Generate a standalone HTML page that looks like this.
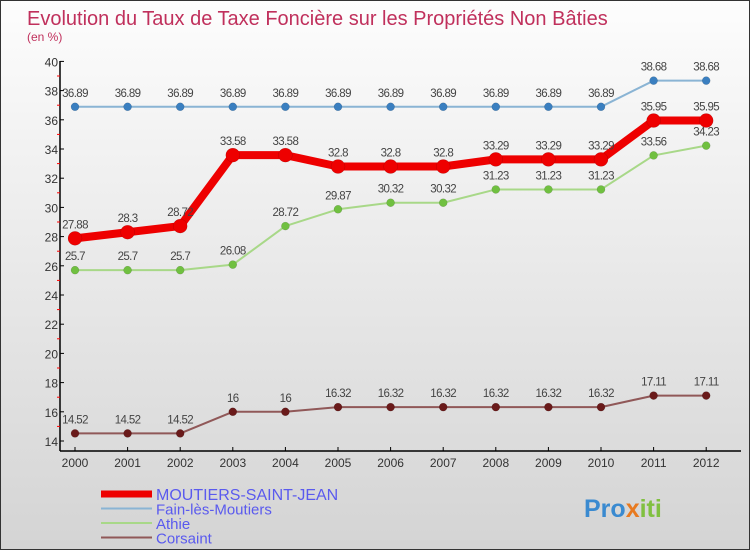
<!DOCTYPE html>
<html><head><meta charset="utf-8"><style>
body{margin:0}
#c{width:748px;height:548px;border:1px solid #333;background:linear-gradient(#fdfdfd,#d4d4d4);position:relative;font-family:"Liberation Sans",sans-serif;overflow:hidden}
</style></head><body>
<div id="c">
<svg width="748" height="548" id="s"></svg>
</div>
<script>
const years=["2000","2001","2002","2003","2004","2005","2006","2007","2008","2009","2010","2011","2012"];
const moutiers=[27.88,28.3,28.72,33.58,33.58,32.8,32.8,32.8,33.29,33.29,33.29,35.95,35.95];
const fain=[36.89,36.89,36.89,36.89,36.89,36.89,36.89,36.89,36.89,36.89,36.89,38.68,38.68];
const athie=[25.7,25.7,25.7,26.08,28.72,29.87,30.32,30.32,31.23,31.23,31.23,33.56,34.23];
const corsaint=[14.52,14.52,14.52,16,16,16.32,16.32,16.32,16.32,16.32,16.32,17.11,17.11];
const yTicks=[14,16,18,20,22,24,26,28,30,32,34,36,38,40];
const NS="http://www.w3.org/2000/svg";
const s=document.getElementById('s');
function X(i){return 74+i*52.6;}
function Y(v){return 440-(v-14)*14.6;}
function el(t,a,txt,p){const e=document.createElementNS(NS,t);for(const k in a)e.setAttribute(k,a[k]);if(txt!==undefined)e.textContent=txt;(p||s).appendChild(e);return e;}
let t=el('text',{x:26,y:24,'font-size':20,fill:'#c0305c'},'Evolution du Taux de Taxe Foncière sur les Propriétés Non Bâties');

t=el('text',{x:26,y:40,'font-size':12,fill:'#c0305c'},'(en %)');

let a=el('line',{x1:59,y1:60,x2:59,y2:450,stroke:'#000','stroke-width':1.5});

a=el('line',{x1:59,y1:450,x2:740,y2:450,stroke:'#000','stroke-width':1.5});

yTicks.forEach((v,i)=>{
 el('line',{x1:59,y1:Y(v),x2:63,y2:Y(v),stroke:'#000'});
 if(i<yTicks.length-1)el('line',{x1:56,y1:Y(v+1),x2:59,y2:Y(v+1),stroke:'red'});
 const l=el('text',{x:57,y:Y(v)+5,'font-size':12,fill:'#333','text-anchor':'end'},v);
 
});
years.forEach((y,i)=>{
 el('line',{x1:X(i),y1:446,x2:X(i),y2:450,stroke:'#000'});
 const l=el('text',{x:X(i),y:466,'font-size':12,fill:'#333','text-anchor':'middle'},y);
 
});
function series(d,color,dot,w,r,name){
 const p=el('polyline',{points:d.map((v,i)=>X(i)+','+Y(v)).join(' '),fill:'none',stroke:color,'stroke-width':w,'stroke-linejoin':'round'});
 
 d.forEach((v,i)=>{
  const c=el('circle',{cx:X(i),cy:Y(v),r:r,fill:dot,stroke:'#0003','stroke-width':0.5});
  
  const l=el('text',{x:X(i),y:Y(v)-10,'font-size':11.5,fill:'#444','text-anchor':'middle','letter-spacing':'-0.6'},v);
  
 });
}
series(fain,'#8ab4d4','#3a7fc0',2,4,'fain');
series(athie,'#a8d888','#70c040',2,4,'athie');
series(corsaint,'#905858','#6a1a1a',2,4,'corsaint');
series(moutiers,'#ee0000','#ee0000',8,7,'moutiers');
const leg=[['MOUTIERS-SAINT-JEAN','#ee0000',7],['Fain-lès-Moutiers','#8ab4d4',2],['Athie','#a8d888',2],['Corsaint','#905858',2]];
leg.forEach((e,i)=>{
 const y=493+i*14.5;
 const l=el('line',{x1:100,y1:y,x2:151,y2:y,stroke:e[1],'stroke-width':e[2]});
 
 const tx=el('text',{x:155,y:y+6,'font-size':i==0?16:15,fill:'#5a5aee'},e[0]);
 
});
t=el('text',{x:583,y:516,'font-size':25,'font-weight':'bold'});

el('tspan',{fill:'#3a8ad0'},'Pro',t);
el('tspan',{fill:'#e87a20'},'x',t);
el('tspan',{fill:'#80c040'},'iti',t);
</script>
</body></html>
